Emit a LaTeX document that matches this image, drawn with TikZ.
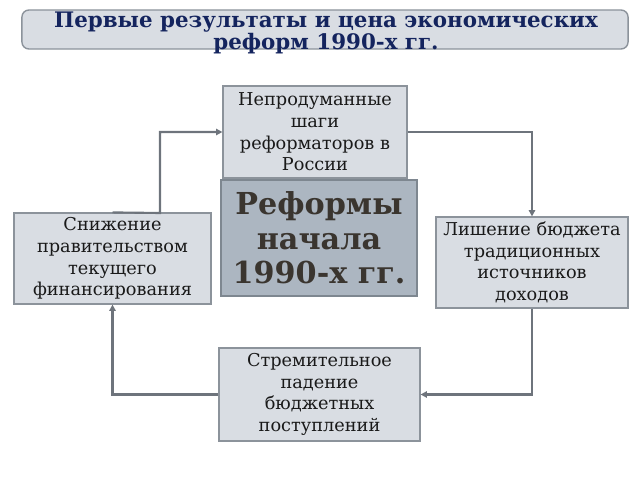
\documentclass[tikz,border=0pt]{standalone}
\usepackage{fontspec}
\setmainfont{DejaVu Serif}
\usetikzlibrary{arrows.meta}
\definecolor{boxfill}{HTML}{D9DDE3}
\definecolor{boxline}{HTML}{8C939B}
\definecolor{corefill}{HTML}{ACB6C1}
\definecolor{coreline}{HTML}{7E8790}
\definecolor{coretext}{HTML}{3A352F}
\definecolor{titletext}{HTML}{14245E}
\definecolor{linkline}{HTML}{6E747C}
\begin{document}
\begin{tikzpicture}
    [
        x = 0.025cm, y = -0.025cm,
        box/.style = {draw = boxline, fill = boxfill, line width = 0.8pt, inner sep = 0pt,
            align = center, font = \fontsize{12.6}{15.4}\selectfont, text = black!90},
        core/.style = {draw = coreline, fill = corefill, line width = 0.8pt, inner sep = 0pt,
            align = center, font = \fontsize{21.5}{24.4}\selectfont\bfseries, text = coretext},
        link/.style = {draw = linkline, line width = 1.5pt, -{Triangle[length = 4.5pt, width = 4.5pt]}}
    ]

    \useasboundingbox (0,0) rectangle (640,480);

    \node (titlebox) [draw = boxline, fill = boxfill, line width = 1pt, rounded corners = 5pt,
        minimum width = 15.15cm, minimum height = 0.975cm] at (325,29.5) {};
    \node (title) [align = center, text = titletext, font = \fontsize{15.2}{15.8}\selectfont\bfseries]
        at (326,33) {Первые результаты и цена экономических\\реформ 1990-х гг.};

    \node (top) [box, minimum width = 4.6cm, minimum height = 2.3cm] at (315,132)
        {Непродуманные\\шаги\\реформаторов в\\России};
    \node (core) [core, minimum width = 4.9cm, minimum height = 2.9cm] at (319,238)
        {Реформы\\начала\\1990-х гг.};
    \node (left) [box, minimum width = 4.925cm, minimum height = 2.275cm] at (112.5,258.5)
        {Снижение\\правительством\\текущего\\финансирования};
    \node (right) [box, minimum width = 4.8cm, minimum height = 2.275cm] at (532,262.5)
        {Лишение бюджета\\традиционных\\источников\\доходов};
    \node (bottom) [box, minimum width = 5.025cm, minimum height = 2.325cm] at (319.5,394.5)
        {Стремительное\\падение\\бюджетных\\поступлений};

    \coordinate (bend) at (160,213);

    \draw [link] (left.north) -- (bend) |- (top.west);
    \draw [link] (top.east) -| (right.north);
    \draw [link] (right.south) |- (bottom.east);
    \draw [link] (bottom.west) -| (left.south);
\end{tikzpicture}
\end{document}
